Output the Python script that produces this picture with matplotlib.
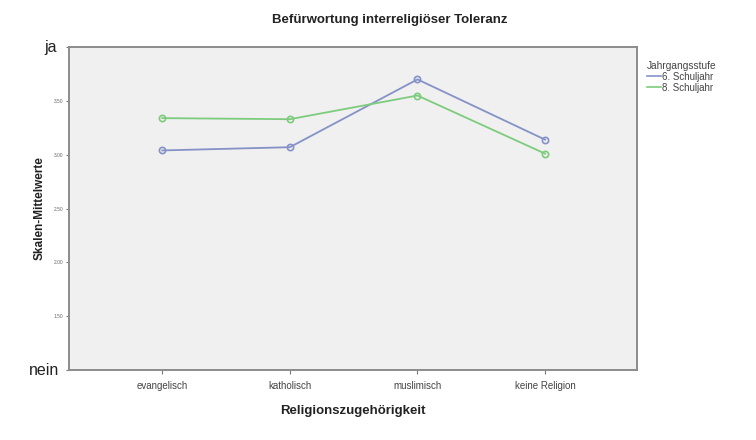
import matplotlib.pyplot as plt
from matplotlib.lines import Line2D

plt.rcParams["font.family"] = ["Liberation Sans", "DejaVu Sans"]

religion = ["evangelisch", "katholisch", "muslimisch", "keine Religion"]
schuljahr_6 = [3.04, 3.07, 3.70, 3.14]
schuljahr_8 = [3.34, 3.33, 3.55, 3.01]
series_labels = ["6. Schuljahr", "8. Schuljahr"]
y_ticks = [1.0, 1.5, 2.0, 2.5, 3.0, 3.5, 4.0]
y_ticklabels = ["", "1.50", "2.00", "2.50", "3.00", "3.50", ""]

blue = "#8592c8"
green = "#7dcc7d"

fig = plt.figure(figsize=(7.56, 4.40), dpi=100)
ax = fig.add_axes([0.0913, 0.159, 0.7513, 0.734])
ax.set_facecolor("#f0f0f0")

x = range(len(religion))
ax.plot(x, schuljahr_6, color=blue, lw=1.3, marker="o", ms=4.5,
        mfc="none", mec=blue, mew=1.2)
ax.plot(x, schuljahr_8, color=green, lw=1.3, marker="o", ms=4.5,
        mfc="none", mec=green, mew=1.2)

ax.set_xlim(-0.73, 3.72)
ax.set_ylim(1.0, 4.0)
ax.set_xticks(list(x))
ax.set_xticklabels(religion, fontsize=7, color="#444444")
ax.set_yticks(y_ticks)
ax.set_yticklabels(y_ticklabels, fontsize=3.5, color="#666666")

for s in ax.spines.values():
    s.set_color("#8c8c8c")
    s.set_linewidth(1.4)
ax.tick_params(axis="x", colors="#777777", length=3, width=0.8, pad=5,
               labelcolor="#444444")
ax.tick_params(axis="y", colors="#777777", length=2, width=0.8, pad=2,
               labelcolor="#666666")

# scale end labels
ax.text(-0.022, 4.0, "ja", transform=ax.get_yaxis_transform(),
        ha="right", va="center", fontsize=11.5, color="#222222")
ax.text(-0.018, 1.0, "nein", transform=ax.get_yaxis_transform(),
        ha="right", va="center", fontsize=11.5, color="#222222")

ax.set_xlabel("Religionszugehörigkeit", fontsize=9.5, fontweight="bold",
              color="#222222", labelpad=10)
fig.text(40 / 756, 0.527, "Skalen-Mittelwerte", rotation=90,
         ha="center", va="center", fontsize=8.5, fontweight="bold",
         color="#222222")

fig.text(0.516, 0.955, "Befürwortung interreligiöser Toleranz",
         ha="center", va="center", fontsize=9.5, fontweight="bold",
         color="#222222")

handles = [Line2D([], [], color=blue, lw=1.2),
           Line2D([], [], color=green, lw=1.2)]
leg = fig.legend(handles, series_labels, title="Jahrgangsstufe",
                 loc="upper left", bbox_to_anchor=(0.848, 0.875),
                 frameon=False, fontsize=7, title_fontsize=7.3,
                 handlelength=1.4, handletextpad=0.2, labelspacing=0.1,
                 borderpad=0.1)
leg._legend_box.align = "left"
for t in leg.get_texts():
    t.set_color("#444444")
leg.get_title().set_color("#444444")

fig.savefig("out.png", dpi=100)
